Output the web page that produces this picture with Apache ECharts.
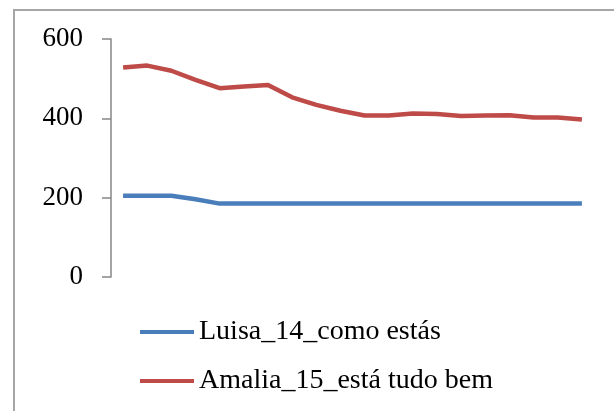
<!DOCTYPE html>
<html>
<head>
<meta charset="utf-8">
<script src="https://cdn.jsdelivr.net/npm/echarts@6/dist/echarts.min.js"></script>
<style>html,body{margin:0;padding:0;background:#fff}#c{width:614px;height:411px}</style>
</head>
<body>
<div id="c"></div>
<script>
const categories = ['1','2','3','4','5','6','7','8','9','10','11','12','13','14','15','16','17','18','19','20'];
const luisa = [205,205,205,196,185,185,185,185,185,185,185,185,185,185,185,185,185,185,185,185];
const amalia = [528,533,520,497,476,480,484,453,434,419,407,407,412,411,406,407,408,402,402,397];
const yTicks = [0,200,400,600];
const seriesNames = ['Luisa_14_como estás','Amalia_15_está tudo bem'];

const font = '"Liberation Serif","Times New Roman",serif';
const chart = echarts.init(document.getElementById('c'), null, {renderer:'canvas'});
chart.setOption({
  animation:false,
  backgroundColor:'#ffffff',
  graphic:[{type:'rect', shape:{x:14,y:10,width:700,height:500}, style:{fill:'none', stroke:'#a6a6a6', lineWidth:2}, silent:true}],
  grid:{left:111, right:20, top:39, bottom:134},
  xAxis:{type:'category', data:categories, boundaryGap:true, axisLine:{show:false}, axisTick:{show:false}, axisLabel:{show:false}, splitLine:{show:false}},
  yAxis:{type:'value', min:yTicks[0], max:yTicks[yTicks.length-1], interval:200,
    axisLine:{show:true, lineStyle:{color:'#868686', width:1.5}},
    axisTick:{show:true, inside:false, length:9, lineStyle:{color:'#868686', width:1.5}},
    axisLabel:{margin:28, color:'#000', fontFamily:font, fontSize:27},
    splitLine:{show:false}},
  legend:{orient:'vertical', left:140, top:318, padding:0, itemWidth:54, itemHeight:4, itemGap:21, icon:'rect',
    textStyle:{fontFamily:font, fontSize:28, color:'#000', lineHeight:28}, data:seriesNames},
  series:[
    {name:seriesNames[0], type:'line', data:luisa, symbol:'none', lineStyle:{color:'#4a7ebb', width:4.5}, itemStyle:{color:'#4a7ebb'}},
    {name:seriesNames[1], type:'line', data:amalia, symbol:'none', lineStyle:{color:'#be4b48', width:4.5}, itemStyle:{color:'#be4b48'}}
  ]
});
</script>
</body>
</html>
